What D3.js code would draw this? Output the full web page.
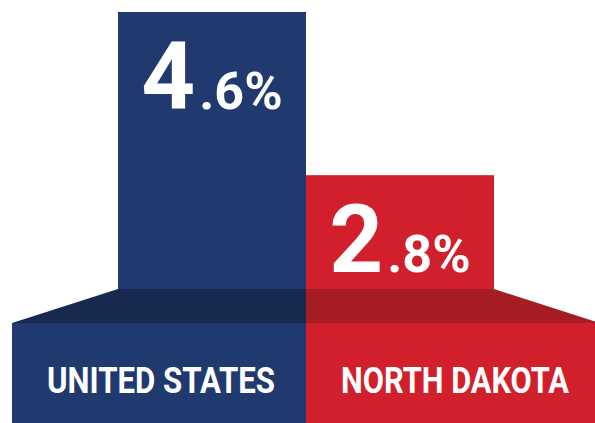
<!DOCTYPE html>
<html>
<head>
<meta charset="utf-8">
<script src="https://cdn.jsdelivr.net/npm/d3@7"></script>
<style>
  html, body { margin: 0; padding: 0; background: #ffffff; }
  svg { display: block; }
</style>
</head>
<body>
<svg id="chart" width="595" height="423"></svg>
<script>
// ---- data ----
const categories = ["UNITED STATES", "NORTH DAKOTA"];
const values = [4.6, 2.8];
const valueLabels = ["4.6%", "2.8%"];
const barColors = ["#203a70", "#d1202b"];
const shadeColors = ["#17294e", "#a61c24"];

// ---- layout ----
const W = 595, H = 423;
const svg = d3.select("#chart");

const x = d3.scaleBand().domain(categories).range([118, 494]).padding(0);
const y = d3.scaleLinear().domain([0, 4.6]).range([429, 12]);

const barBottom = 289;      // where the bars meet the perspective base
const baseTop = 323;        // top of the label band
const spread = 106;         // horizontal flare of the base

// bars
svg.selectAll("rect.bar")
  .data(categories)
  .join("rect")
  .attr("class", "bar")
  .attr("x", d => x(d))
  .attr("y", (d, i) => y(values[i]))
  .attr("width", x.bandwidth())
  .attr("height", (d, i) => barBottom - y(values[i]))
  .attr("fill", (d, i) => barColors[i]);

// perspective shading (trapezoid)
const mid = x(categories[1]);
const left = x(categories[0]), right = x(categories[1]) + x.bandwidth();
const trap = [
  [[left, barBottom], [mid, barBottom], [mid, baseTop], [left - spread, baseTop]],
  [[mid, barBottom], [right, barBottom], [right + spread, baseTop], [mid, baseTop]]
];
svg.selectAll("path.shade")
  .data(trap)
  .join("path")
  .attr("class", "shade")
  .attr("d", p => d3.line()(p) + "Z")
  .attr("fill", (d, i) => shadeColors[i]);

// label band
const bandEdges = [[left - spread, mid], [mid, right + spread]];
svg.selectAll("rect.band")
  .data(bandEdges)
  .join("rect")
  .attr("class", "band")
  .attr("x", d => d[0])
  .attr("y", baseTop)
  .attr("width", d => Math.min(d[1], W) - d[0])
  .attr("height", H - baseTop)
  .attr("fill", (d, i) => barColors[i]);

// category labels (condensed look via horizontal scale)
const targetW = 228;
svg.selectAll("text.cat")
  .data(categories)
  .join("text")
  .attr("class", "cat")
  .attr("x", 0)
  .attr("y", 0)
  .attr("text-anchor", "middle")
  .attr("fill", "#ffffff")
  .attr("font-family", "Roboto, 'DejaVu Sans', sans-serif")
  .attr("font-weight", "bold")
  .attr("font-size", 37)
  .text(d => d)
  .attr("transform", function(d, i) {
    const cx = (bandEdges[i][0] + bandEdges[i][1]) / 2 + 2;
    const len = this.getComputedTextLength() || targetW;
    return `translate(${cx},393) scale(${targetW / len},1)`;
  });

// value labels: large integer part + smaller decimal part
const vl = svg.selectAll("text.val")
  .data(valueLabels)
  .join("text")
  .attr("class", "val")
  .attr("x", (d, i) => x(categories[i]) + x.bandwidth() / 2)
  .attr("y", (d, i) => y(values[i]) + 97)
  .attr("text-anchor", "middle")
  .attr("fill", "#ffffff")
  .attr("font-family", "Roboto, 'DejaVu Sans', sans-serif")
  .attr("font-weight", "bold");

vl.append("tspan")
  .attr("font-size", 94)
  .text(d => d.split(".")[0]);
vl.append("tspan")
  .attr("font-size", 52)
  .attr("dx", 4)
  .text(d => "." + d.split(".")[1]);
</script>
</body>
</html>
